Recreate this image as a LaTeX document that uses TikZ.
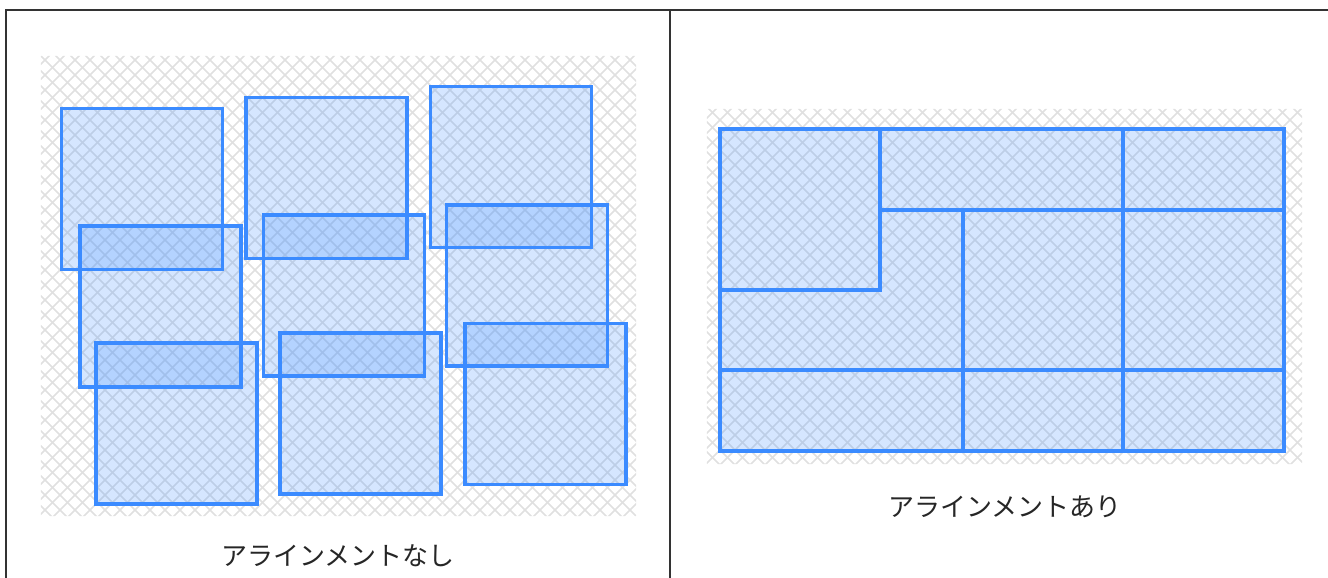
\documentclass[tikz,border=0pt]{standalone}
\usepackage{fontspec}
\newfontfamily\jpfont{Noto Sans CJK JP}
\definecolor{tileblue}{RGB}{59,139,255}

\begin{document}
\begin{tikzpicture}[
    x=1pt, y=-1pt,
    frame/.style={draw=black!80, line width=1.3pt},
    board/.style={inner sep=0pt, minimum width=595pt},
    hatch/.style={draw=black!12, line width=1.6pt},
    tile/.style={draw=tileblue, line width=3.6pt, fill=tileblue, fill opacity=.21, draw opacity=1, inner sep=0pt, minimum width=161pt, minimum height=161pt},
    gridline/.style={draw=tileblue, line width=3.6pt},
    caption/.style={font=\jpfont\fontsize{26}{30}\selectfont, text=black!85}
  ]
    \useasboundingbox (0,0) rectangle (1328,578);

    % hatched backgrounds
    \node[board, minimum height=460pt] (boardL) at (338.5,286) {};
    \node[board, minimum height=355pt] (boardR) at (1004.5,286.5) {};
    \begin{scope}
      \clip (boardL.south west) rectangle (boardL.north east)
            (boardR.south west) rectangle (boardR.north east);
      \foreach \c in {-600,-585,...,1935} {
        \draw[hatch] (\c,0) -- ++(-600,600);
        \draw[hatch] (\c-600,0) -- ++(600,600);
      }
    \end{scope}

    % without alignment
    \node[tile] (a1) at (142,189) {};
    \node[tile] (a2) at (326.5,178) {};
    \node[tile] (a3) at (511,167) {};
    \node[tile] (b1) at (160.5,306.5) {};
    \node[tile] (b2) at (344,295.5) {};
    \node[tile] (b3) at (527,285.5) {};
    \node[tile] (c1) at (176.5,423.5) {};
    \node[tile] (c2) at (360.5,413.5) {};
    \node[tile] (c3) at (545.5,404) {};

    % with alignment
    \node[tile, minimum width=564pt, minimum height=322pt] (grid) at (1002,290) {};
    \draw[gridline] (880,129) -- (880,290) -- (720,290);
    \draw[gridline] (880,210) -- (1284,210);
    \draw[gridline] (963,210) -- (963,451);
    \draw[gridline] (1123,129) -- (1123,451);
    \draw[gridline] (720,370) -- (1284,370);

    \node[caption] (capL) at (338,556) {アラインメントなし};
    \node[caption] (capR) at (1005,507) {アラインメントあり};

    \draw[frame] (6,578) -- (6,10) -- (1328,10);
    \draw[frame] (670,10) -- (670,578);
  \end{tikzpicture}
\end{document}
